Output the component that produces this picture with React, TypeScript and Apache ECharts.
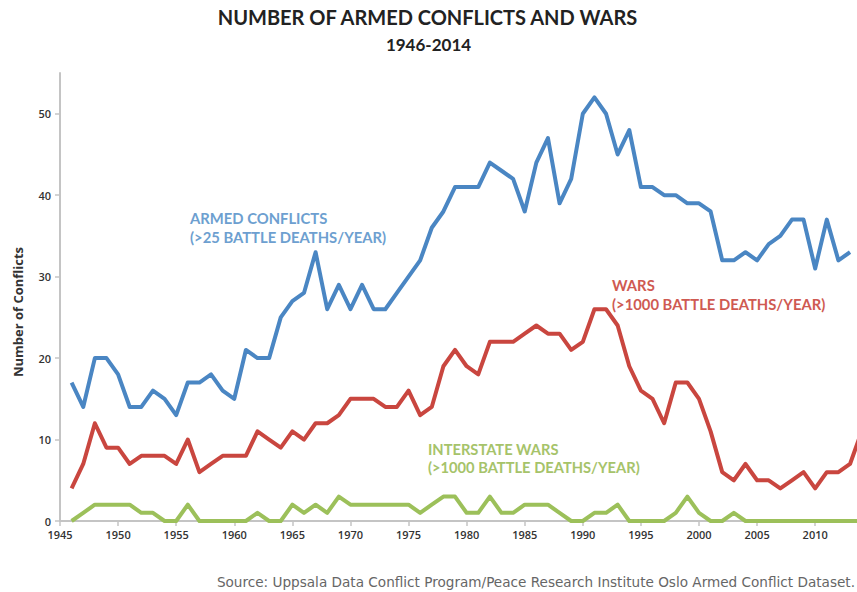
import React, { useEffect, useRef } from "react";
import * as echarts from "echarts";

const years = [
  1946, 1947, 1948, 1949, 1950, 1951, 1952, 1953, 1954, 1955, 1956, 1957, 1958, 1959,
  1960, 1961, 1962, 1963, 1964, 1965, 1966, 1967, 1968, 1969, 1970, 1971, 1972, 1973,
  1974, 1975, 1976, 1977, 1978, 1979, 1980, 1981, 1982, 1983, 1984, 1985, 1986, 1987,
  1988, 1989, 1990, 1991, 1992, 1993, 1994, 1995, 1996, 1997, 1998, 1999, 2000, 2001,
  2002, 2003, 2004, 2005, 2006, 2007, 2008, 2009, 2010, 2011, 2012, 2013, 2014,
];

const armedConflicts: (number | null)[] = [
  17, 14, 20, 20, 18, 14, 14, 16, 15, 13, 17, 17, 18, 16,
  15, 21, 20, 20, 25, 27, 28, 33, 26, 29, 26, 29, 26, 26,
  28, 30, 32, 36, 38, 41, 41, 41, 44, 43, 42, 38, 44, 47,
  39, 42, 50, 52, 50, 45, 48, 41, 41, 40, 40, 39, 39, 38,
  32, 32, 33, 32, 34, 35, 37, 37, 31, 37, 32, 33, null,
];

const wars = [
  4, 7, 12, 9, 9, 7, 8, 8, 8, 7, 10, 6, 7, 8,
  8, 8, 11, 10, 9, 11, 10, 12, 12, 13, 15, 15, 15, 14,
  14, 16, 13, 14, 19, 21, 19, 18, 22, 22, 22, 23, 24, 23,
  23, 21, 22, 26, 26, 24, 19, 16, 15, 12, 17, 17, 15, 11,
  6, 5, 7, 5, 5, 4, 5, 6, 4, 6, 6, 7, 11,
];

const interstateWars = [
  0, 1, 2, 2, 2, 2, 1, 1, 0, 0, 2, 0, 0, 0,
  0, 0, 1, 0, 0, 2, 1, 2, 1, 3, 2, 2, 2, 2,
  2, 2, 1, 2, 3, 3, 1, 1, 3, 1, 1, 2, 2, 2,
  1, 0, 0, 1, 1, 2, 0, 0, 0, 0, 1, 3, 1, 0,
  0, 1, 0, 0, 0, 0, 0, 0, 0, 0, 0, 0, 0,
];

const yTicks = [0, 10, 20, 30, 40, 50];
const xTicks = [1945, 1950, 1955, 1960, 1965, 1970, 1975, 1980, 1985, 1990, 1995, 2000, 2005, 2010];

const BLUE = "#4a86c3";
const RED = "#c9463f";
const GREEN = "#9cc05a";

export default function App() {
  const ref = useRef<HTMLDivElement>(null);
  useEffect(() => {
    document.body.style.margin = "0";
    if (!ref.current) return;
    const chart = echarts.init(ref.current, null, { renderer: "svg" });
    const pair = (arr: (number | null)[]) => years.map((y, i) => [y, arr[i]]);
    const labelFont = { fontFamily: "Open Sans", fontWeight: 600, fontSize: 11, color: "#333" };
    chart.setOption({
      animation: false,
      backgroundColor: "#ffffff",
      grid: { left: 60, right: 0, top: 73, bottom: 71 },
      xAxis: {
        type: "value",
        min: 1945,
        max: 2013.6,
        interval: 5,
        splitLine: { show: false },
        axisLine: { show: true, lineStyle: { color: "#c4c4c4", width: 2 } },
        axisTick: { show: true, length: 5, lineStyle: { color: "#c4c4c4", width: 1.5 }, customValues: xTicks },
        axisLabel: {
          ...labelFont,
          margin: 8,
          customValues: xTicks,
          formatter: (v: number) => (v % 5 === 0 && v <= 2010 ? String(v) : ""),
        },
      },
      yAxis: {
        type: "value",
        min: 0,
        max: 55,
        interval: 10,
        splitLine: { show: false },
        axisLine: { show: true, lineStyle: { color: "#c4c4c4", width: 2 } },
        axisTick: { show: true, length: 5, lineStyle: { color: "#c4c4c4", width: 1.5 }, customValues: yTicks },
        axisLabel: {
          ...labelFont,
          margin: 9,
          customValues: yTicks,
          formatter: (v: number) => (v % 10 === 0 ? String(v) : ""),
        },
      },
      series: [
        {
          type: "line",
          name: "Armed conflicts",
          data: pair(armedConflicts),
          symbol: "none",
          clip: true,
          lineStyle: { color: BLUE, width: 4, join: "round" },
          connectNulls: false,
        },
        {
          type: "line",
          name: "Wars",
          data: pair(wars),
          symbol: "none",
          clip: true,
          lineStyle: { color: RED, width: 4, join: "round" },
        },
        {
          type: "line",
          name: "Interstate wars",
          data: pair(interstateWars),
          symbol: "none",
          clip: true,
          lineStyle: { color: GREEN, width: 4, join: "round" },
        },
      ],
      graphic: [
        {
          type: "text",
          left: "center",
          top: 7,
          style: { text: "NUMBER OF ARMED CONFLICTS AND WARS", font: "bold 20px Lato", fill: "#222" },
        },
        {
          type: "text",
          left: "center",
          top: 36,
          style: { text: "1946-2014", font: "bold 17px Lato", fill: "#222" },
        },
        {
          type: "text",
          x: 18,
          y: 312,
          rotation: Math.PI / 2,
          style: {
            text: "Number of Conflicts",
            font: "bold 13px 'Open Sans'",
            fill: "#333",
            align: "center",
            verticalAlign: "middle",
          },
        },
        {
          type: "text",
          x: 190,
          y: 208,
          style: { text: "ARMED CONFLICTS\n(>25 BATTLE DEATHS/YEAR)", font: "bold 14.8px Lato", fill: "#6d9fd0", lineHeight: 19 },
        },
        {
          type: "text",
          x: 612,
          y: 275,
          style: { text: "WARS\n(>1000 BATTLE DEATHS/YEAR)", font: "bold 14.8px Lato", fill: "#cf5a52", lineHeight: 19 },
        },
        {
          type: "text",
          x: 428,
          y: 440,
          style: { text: "INTERSTATE WARS\n(>1000 BATTLE DEATHS/YEAR)", font: "bold 14.7px Lato", fill: "#a6c36a", lineHeight: 18 },
        },
        {
          type: "text",
          right: 2,
          top: 575,
          style: {
            text: "Source: Uppsala Data Conflict Program/Peace Research Institute Oslo Armed Conflict Dataset.",
            font: "13.6px 'DejaVu Sans'",
            fill: "#666",
          },
        },
      ],
    });
    return () => chart.dispose();
  }, []);
  return <div ref={ref} style={{ width: 857, height: 592 }} />;
}
